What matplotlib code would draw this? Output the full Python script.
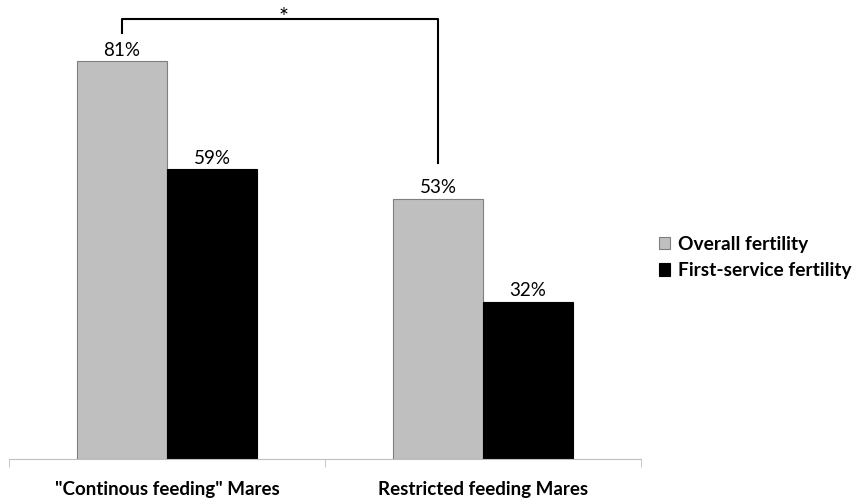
import numpy as np
import matplotlib.pyplot as plt

plt.rcParams['font.family'] = ['Lato', 'DejaVu Sans']

groups = ['"Continous feeding" Mares', 'Restricted feeding Mares']
overall = [81, 53]
first_service = [59, 32]
series_names = ['Overall fertility', 'First-service fertility']

fig = plt.figure(figsize=(8.62, 4.99), dpi=100)
ax = fig.add_axes([9/862, 40/499, 632/862, 459/499])

x = np.arange(len(groups))
w = 0.285
b1 = ax.bar(x - w/2, overall, w, color='#bfbfbf', edgecolor='#7f7f7f', linewidth=0.8, label=series_names[0])
b2 = ax.bar(x + w/2, first_service, w, color='black', edgecolor='black', linewidth=0.8, label=series_names[1])

for bars, vals in [(b1, overall), (b2, first_service)]:
    for r, v in zip(bars, vals):
        ax.text(r.get_x() + r.get_width()/2, v + 0.5, f'{v}%', ha='center', va='bottom', fontsize=13.5)

ax.set_xlim(-0.5, 1.5)
ax.set_ylim(0, 93.5)
ax.set_yticks([])
for s in ['top', 'right', 'left']:
    ax.spines[s].set_visible(False)
ax.spines['bottom'].set_color('#bfbfbf')
ax.set_xticks(x)
ax.set_xticklabels(groups, fontsize=13.5, fontweight='bold')
ax.tick_params(axis='x', which='major', length=0, pad=16)
ax.set_xticks([-0.5, 0.5, 1.5], minor=True)
ax.tick_params(axis='x', which='minor', length=6, color='#bfbfbf')

# significance bracket
xl, xr = x[0] - w/2, x[1] - w/2
ax.plot([xl, xl, xr, xr], [86.8, 89.6, 89.6, 60.3], color='black', lw=1.5, clip_on=False)
ax.text((xl + xr)/2 + 0.01, 87.8, '*', ha='center', va='bottom', fontsize=17)

fig.legend(loc='upper left', bbox_to_anchor=(651/862, 1 - 228/499), frameon=False,
           prop={'weight': 'bold', 'size': 13.8}, handlelength=0.6, handleheight=0.6,
           handletextpad=0.4, labelspacing=0.5, borderaxespad=0)

plt.savefig('out.png', dpi=100)
